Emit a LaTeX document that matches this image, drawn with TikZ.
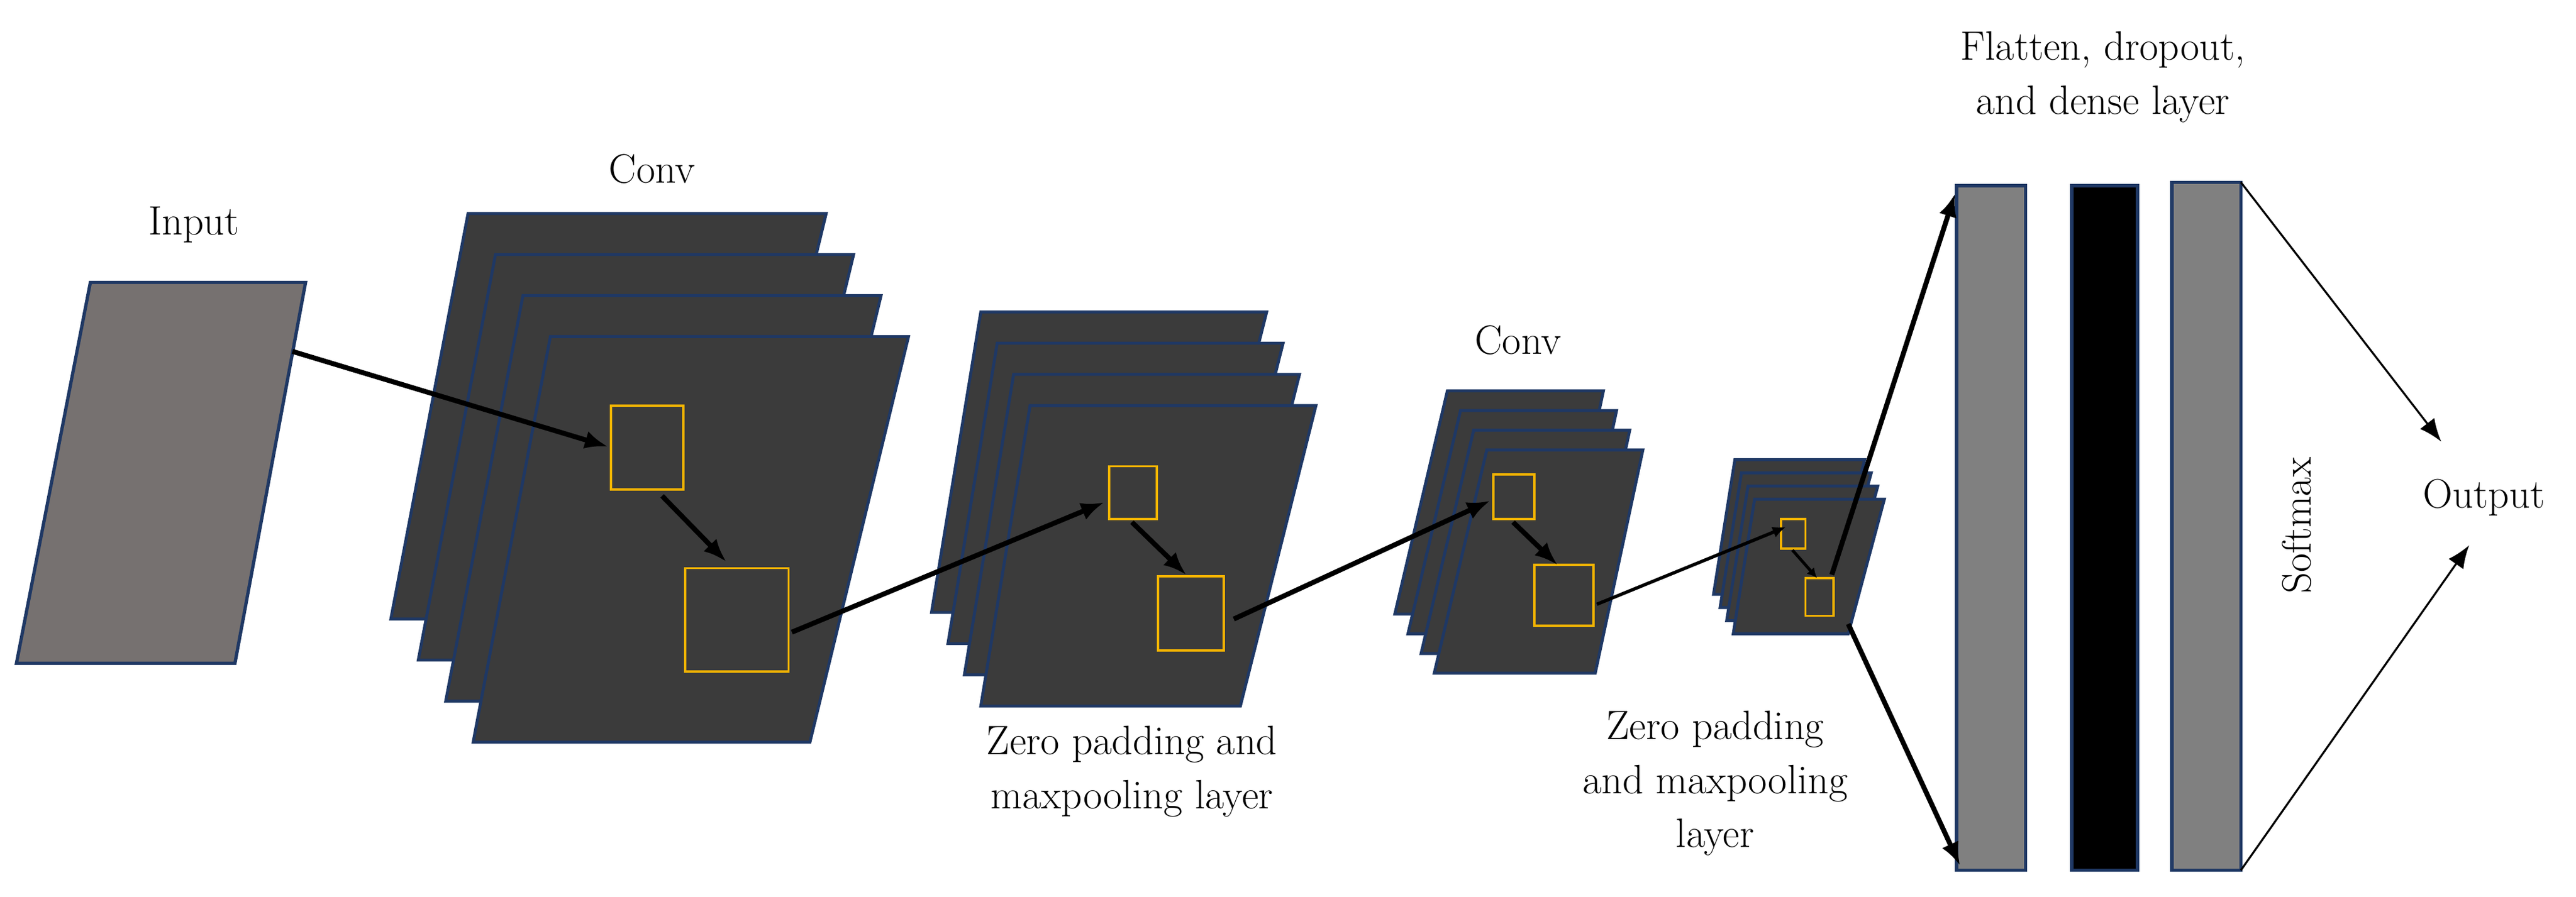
\documentclass[tikz,border=0pt]{standalone}
\usetikzlibrary{arrows.meta}
\definecolor{navy}{HTML}{1F3864}
\definecolor{gold}{HTML}{F5B400}
\begin{document}
\begin{tikzpicture}[x=1pt,y=-1pt,
  lay/.style={fill=black!77,draw=navy,line width=1.8pt,line join=miter},
  sq/.style={draw=gold,line width=1.4pt},
  bar/.style={draw=navy,line width=2pt},
  arr/.style={-{Latex[length=14pt,width=11pt]},line width=3pt},
  thin/.style={-{Latex[length=14pt,width=11pt]},line width=1.2pt},
  lbl/.style={font=\fontsize{25}{33}\selectfont,align=center}]
\useasboundingbox (0,0) rectangle (1568,546);
% input
\draw[fill={rgb,255:red,118;green,113;blue,112},draw=navy,line width=2pt] (55,172)--(186,172)--(143,404)--(10,404)--cycle;
% stacks
\foreach \k in {3,2,1,0}{
 \draw[lay,shift={(-16.7*\k,-25*\k)}] (335,205)--(553,205)--(493,452)--(288,452)--cycle;
 \draw[lay,shift={(-10*\k,-19*\k)}] (627,247)--(801,247)--(755,430)--(597,430)--cycle;
 \draw[lay,shift={(-8*\k,-12*\k)}] (905,274)--(1000,274)--(971,410)--(873,410)--cycle;
 \draw[lay,shift={(-4*\k,-8*\k)}] (1068,304)--(1147,304)--(1125,386)--(1055,386)--cycle;
}
\draw[sq] (372,247) rectangle (416,298);
\draw[sq] (417,346) rectangle (480,409);
\draw[sq] (675,284) rectangle (704,316);
\draw[sq] (705,351) rectangle (745,396);
\draw[sq] (909,289) rectangle (934,316);
\draw[sq] (934,344) rectangle (970,381);
\draw[sq] (1084,316) rectangle (1099,334);
\draw[sq] (1099,352) rectangle (1116,375);
% bars
\draw[bar,fill={rgb,255:red,128;green,128;blue,128}] (1191,113) rectangle (1233,530);
\draw[bar,fill=black] (1261,113) rectangle (1301,530);
\draw[bar,fill={rgb,255:red,128;green,128;blue,128}] (1322,111) rectangle (1364,530);
% coordinates
\coordinate (a1) at (178,214); \coordinate (a2) at (370,272);
\coordinate (b1) at (403,302); \coordinate (b2) at (442,342);
\coordinate (c1) at (482,385); \coordinate (c2) at (672,306);
\coordinate (d1) at (689,318); \coordinate (d2) at (722,350);
\coordinate (e1) at (751,377); \coordinate (e2) at (907,305);
\coordinate (f1) at (921,318); \coordinate (f2) at (948,344);
\coordinate (g1) at (972,368); \coordinate (g2) at (1087,321);
\coordinate (h1) at (1091,335); \coordinate (h2) at (1106,352);
\coordinate (i1) at (1115,350); \coordinate (i2) at (1190,118);
\coordinate (j1) at (1125,380); \coordinate (j2) at (1193,527);
\coordinate (k1) at (1364,111); \coordinate (k2) at (1486,269);
\coordinate (l1) at (1364,530); \coordinate (l2) at (1503,332);
\draw[arr] (a1)--(a2); \draw[arr] (b1)--(b2); \draw[arr] (c1)--(c2);
\draw[arr] (d1)--(d2); \draw[arr] (e1)--(e2); \draw[arr] (f1)--(f2);
\draw[-{Latex[length=8pt,width=7pt]},line width=2pt] (g1)--(g2);
\draw[-{Latex[length=6pt,width=6pt]},line width=1.8pt] (h1)--(h2);
\draw[arr] (i1)--(i2); \draw[arr] (j1)--(j2);
\draw[thin] (k1)--(k2); \draw[thin] (l1)--(l2);
% labels
\node[lbl] (t1) at (118,137) {Input};
\node[lbl] (t2) at (397,103) {Conv};
\node[lbl] (t3) at (924,207) {Conv};
\node[lbl] (t4) at (689,470) {Zero padding and\\maxpooling layer};
\node[lbl] (t5) at (1044,477) {Zero padding\\and maxpooling\\layer};
\node[lbl] (t6) at (1280,47) {Flatten, dropout,\\and dense layer};
\node[lbl,rotate=90] (t7) at (1398,320) {Softmax};
\node[lbl] (t8) at (1512,303) {Output};
\end{tikzpicture}
\end{document}
